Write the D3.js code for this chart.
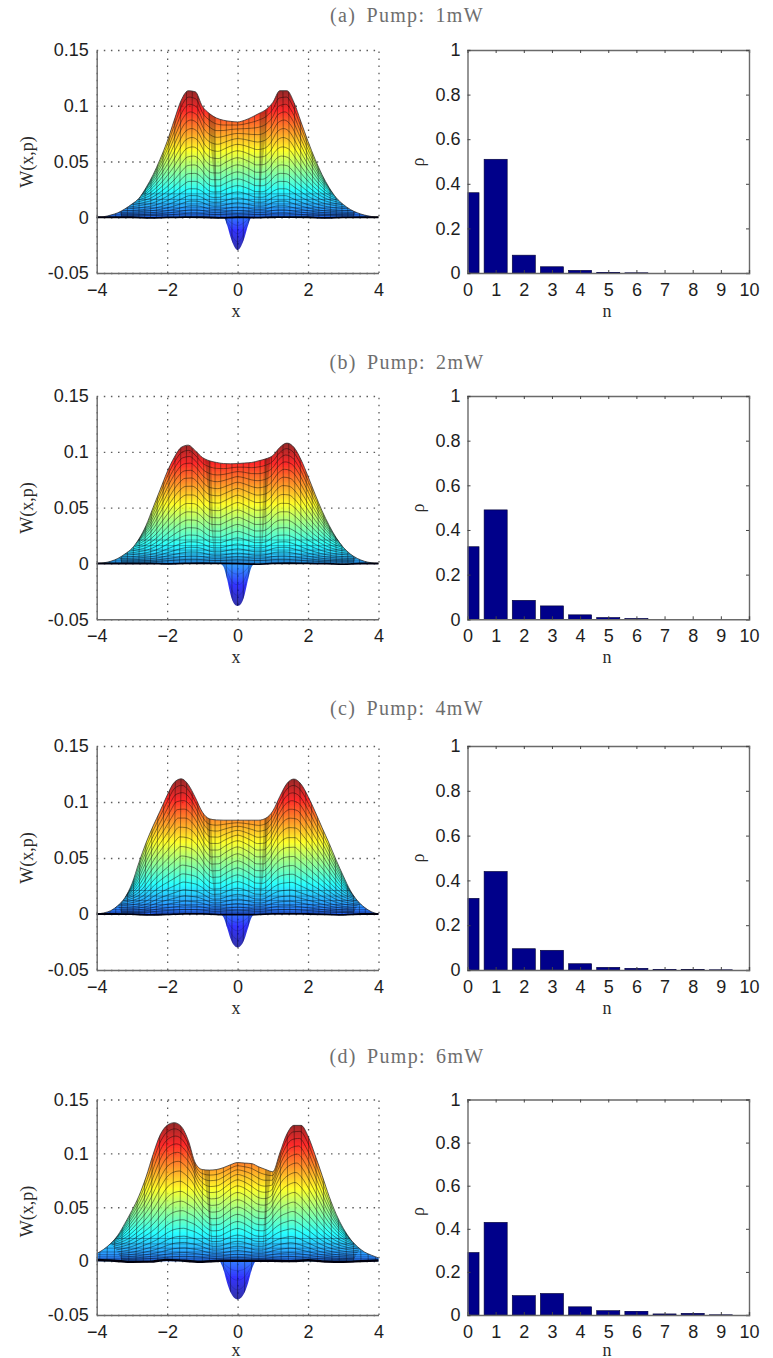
<!DOCTYPE html>
<html>
<head>
<meta charset="utf-8">
<script src="https://d3js.org/d3.v7.min.js"></script>
<style>
    html, body { margin: 0; padding: 0; background: #fff; }
    .title { font-family: "Liberation Serif", serif; font-size: 20px; fill: #6e6e6e; word-spacing: 4px; letter-spacing: 1.3px; }
    .lab { font-family: "Liberation Serif", serif; font-size: 18px; fill: #2a2a2a; }
    .axis text { font-family: "Liberation Sans", sans-serif; font-size: 18px; fill: #1e1e1e; }
    .axis .domain { stroke: #6a6a6a; stroke-width: 1.4; }
    .grid line { stroke: #5c5c5c; stroke-width: 1.3; stroke-dasharray: 1.5 5.6; }
    .grid .domain { display: none; }
    .grid text { display: none; }
    .tick-in line { stroke: #444; stroke-width: 1; }
    .tick-in .domain { stroke: #6a6a6a; stroke-width: 1.4; }
    .tick-in text { display: none; }
</style>
</head>
<body>
<svg id="chart" width="773" height="1358"></svg>
<script>

// the titles and where each row sits on the page
var titles = ['(a) Pump: 1mW', '(b) Pump: 2mW', '(c) Pump: 4mW', '(d) Pump: 6mW'];
var rowTop = [50, 396, 746, 1099.5];
var rowBottom = [273, 619.3, 970, 1315];
var titleY = [22, 369, 715, 1063];
var labelY = [317, 662.5, 1013.5, 1355.5];

// W(x,p) axis
var xTicks = [-4, -2, 0, 2, 4];
var yTicks = [-0.05, 0, 0.05, 0.1, 0.15];
var yTickLabels = ['-0.05', '0', '0.05', '0.1', '0.15'];

// sample positions of the surface outline
var xGrid = [-4, -3.8, -3.6, -3.4, -3.2, -3, -2.8, -2.6, -2.4, -2.2, -2, -1.8, -1.6, -1.4, -1.2, -1, -0.8, -0.6, -0.4, -0.2,
    0, 0.2, 0.4, 0.6, 0.8, 1, 1.2, 1.4, 1.6, 1.8, 2, 2.2, 2.4, 2.6, 2.8, 3, 3.2, 3.4, 3.6, 3.8, 4];

// outline of each surface seen from the side
var outlineA = [0, .0005, .002, .004, .0075, .0118, .017, .0265, .038, .052, .068, .087, .105, .1135, .1125, .0995, .093, .089, .087, .086,
    .0855, .087, .0897, .093, .0965, .103, .1135, .1135, .103, .0855, .068, .052, .038, .0265, .0175, .0115, .007, .004, .002, .0007, 0];
var outlineB = [0, .0006, .002, .0045, .0085, .0135, .022, .034, .05, .066, .082, .095, .104, .106, .101, .095, .092, .0905, .0895, .0893,
    .0895, .09, .0905, .092, .0937, .0967, .104, .1078, .104, .093, .078, .062, .047, .034, .023, .0145, .0085, .0045, .002, .0006, 0];
var outlineC = [0, .001, .003, .0075, .0145, .027, .046, .0635, .0785, .092, .106, .1175, .1207, .1155, .104, .091, .085, .084, .0838, .0838,
    .0838, .0838, .0838, .0838, .0855, .092, .105, .1165, .1205, .116, .105, .0915, .077, .063, .048, .034, .021, .012, .006, .002, 0];
var outlineD = [.007, .011, .0165, .024, .035, .047, .0605, .078, .099, .117, .126, .1285, .125, .112, .091, .085, .0845, .085, .0868, .0895,
    .0915, .091, .0905, .0875, .085, .083, .1005, .118, .126, .126, .116, .0985, .0795, .06, .0435, .0305, .0205, .0135, .0085, .0055, .003];

// shape of the lower mesh slices over the middle, from x=-1.6 to x=1.6
var innerA = [.1, .098, .085, .06, .05, .052, .065, .078, .085, .078, .065, .052, .05, .06, .085, .098, .1];
var innerB = [.1, .098, .088, .066, .056, .056, .066, .078, .086, .078, .066, .056, .056, .066, .088, .098, .1];
var innerC = [.112, .106, .09, .064, .05, .052, .066, .08, .088, .08, .066, .052, .05, .064, .09, .106, .112];
var innerD = [.118, .108, .09, .066, .054, .056, .07, .086, .094, .086, .07, .056, .054, .066, .09, .108, .118];

// negative lobe under zero
var lobeX = [-0.5, -0.4, -0.3, -0.2, -0.1, 0, 0.1, 0.2, 0.3, 0.4, 0.5];
var lobeA = [0, 0, -.007, -.018, -.026, -.0295, -.026, -.018, -.007, 0, 0];
var lobeB = [0, -.003, -.014, -.028, -.036, -.038, -.036, -.028, -.014, -.003, 0];
var lobeC = [0, -.003, -.012, -.022, -.028, -.03, -.028, -.022, -.012, -.003, 0];
var lobeD = [0, -.008, -.02, -.029, -.034, -.0355, -.034, -.029, -.02, -.008, 0];

// the black wobbling line at the foot of the surface
var footX = [-4, -3.5, -3, -2.5, -2, -1.5, -1, -0.5, 0, 0.5, 1, 1.5, 2, 2.5, 3, 3.5, 4];
var footA = [0, 0, 0, -.0005, -.0002, .0002, 0, -.0005, 0, -.0003, 0, .0002, 0, -.0006, -.0002, 0, 0];
var footB = [0, 0, 0, 0, -.0003, 0, .0002, 0, -.0002, -.0006, 0, .0002, 0, -.0002, -.0006, 0, 0];
var footC = [0, 0, -.0002, -.0007, -.0003, .0002, .0001, -.0005, -.0005, -.0005, .0001, .0002, 0, -.0003, -.0007, 0, 0];
var footD = [.001, .0004, -.0006, -.0005, .0012, .0003, -.0006, .0003, .0003, .0003, .0003, 0, .0008, -.0003, -.0006, 0, .0006];

// darker wedges over the middle: outer x at top, inner x at top, height of top, x at foot
var wedgeA = [-0.93, -0.68, 0.1, -0.58];
var wedgeB = [-1.0, -0.78, 0.098, -0.66];
var wedgeC = [-1.0, -0.8, 0.092, -0.62];
var wedgeD = [-1.03, -0.85, 0.088, -0.7];

// photon number distributions
var nValues = [0, 1, 2, 3, 4, 5, 6, 7, 8, 9, 10];
var rhoA = [.36, .51, .08, .028, .012, .004, .001, 0, 0, 0, 0];
var rhoB = [.325, .49, .085, .06, .02, .008, .004, .001, 0, 0, 0];
var rhoC = [.32, .44, .095, .088, .028, .012, .008, .004, .003, .001, 0];
var rhoD = [.29, .43, .09, .1, .038, .02, .018, .005, .008, .001, 0];
var rhoTicks = [0, 0.2, 0.4, 0.6, 0.8, 1];
var rhoTickLabels = ['0', '0.2', '0.4', '0.6', '0.8', '1'];

var outlines = [outlineA, outlineB, outlineC, outlineD];
var inners = [innerA, innerB, innerC, innerD];
var lobes = [lobeA, lobeB, lobeC, lobeD];
var foots = [footA, footB, footC, footD];
var wedges = [wedgeA, wedgeB, wedgeC, wedgeD];
var rhos = [rhoA, rhoB, rhoC, rhoD];

// mesh slices, as a fraction of the full height
var meshLevels = [.93, .855, .78, .705, .63, .555, .48, .41, .345, .285, .23, .18, .135, .1, .07, .045, .025];
var meshStep = [0.16, 0.16, 0.16, 0.2];
// flat slices near the foot, they run out to the outline
var fringeLevels = [.0012, .0025, .004, .006, .0085, .012, .016, .021];

var jetStops = [0, .125, .375, .625, .875, 1];
var jetColors = ['#00008f', '#0000ff', '#00ffff', '#ffff00', '#ff0000', '#800000'];

var svg = d3.select('#chart');
var defs = svg.append('defs');

defs.append('filter')
    .attr('id', 'soft')
    .attr('x', '-2%').attr('y', '-2%').attr('width', '104%').attr('height', '104%')
    .append('feGaussianBlur')
    .attr('stdDeviation', 0.55);

var x = d3.scaleLinear().domain([-4, 4]).range([96.7, 378.5]);
var n = d3.scaleLinear().domain([0, 10]).range([467.5, 749]);

titles.forEach(function (title, i) {

    var y = d3.scaleLinear().domain([-0.05, 0.15]).range([rowBottom[i], rowTop[i]]);
    var r = d3.scaleLinear().domain([0, 1]).range([rowBottom[i], rowTop[i]]);
    var h = rowBottom[i] - rowTop[i];

    svg.append('text')
        .attr('class', 'title')
        .attr('x', 407)
        .attr('y', titleY[i])
        .style('text-anchor', 'middle')
        .text(title);

    //dotted grid goes under the surface
    svg.append('g')
        .attr('class', 'grid')
        .attr('transform', 'translate(0,' + rowBottom[i] + ')')
        .call(d3.axisBottom(x).tickValues(xTicks).tickSize(-h));

    svg.append('g')
        .attr('class', 'grid')
        .attr('transform', 'translate(' + x(-4) + ',0)')
        .call(d3.axisLeft(y).tickValues(yTicks).tickSize(-(x(4) - x(-4))));

    // jet colours depend on height, min and max of each surface
    var outline = outlines[i];
    var lobe = lobes[i];
    var cMin = d3.min(lobe);
    var cMax = d3.max(outline);
    var gradId = 'jet' + i;

    var grad = defs.append('linearGradient')
        .attr('id', gradId)
        .attr('gradientUnits', 'userSpaceOnUse')
        .attr('x1', 0).attr('x2', 0)
        .attr('y1', y(0.15)).attr('y2', y(-0.05));

    jetStops.slice().reverse().forEach(function (s, k) {
        var w = cMin + s * (cMax - cMin);
        grad.append('stop')
            .attr('offset', (y(w) - y(0.15)) / h)
            .attr('stop-color', jetColors[jetStops.length - 1 - k]);
    });

    var surface = svg.append('g').attr('filter', 'url(#soft)');

    var area = d3.area()
        .x(function (d, k) { return x(xGrid[k]); })
        .y0(y(0))
        .y1(function (d) { return y(d); })
        .curve(d3.curveMonotoneX);

    var lobeArea = d3.area()
        .x(function (d, k) { return x(lobeX[k]); })
        .y0(y(0))
        .y1(function (d) { return y(d); })
        .curve(d3.curveMonotoneX);

    var clipId = 'clip' + i;
    var clip = defs.append('clipPath').attr('id', clipId);
    clip.append('path').attr('d', area(outline));
    clip.append('path').attr('d', lobeArea(lobe));

    surface.append('path')
        .attr('d', lobeArea(lobe))
        .attr('fill', 'url(#' + gradId + ')')
        .attr('fill-opacity', 0.8);

    surface.append('path')
        .attr('d', area(outline))
        .attr('fill', 'url(#' + gradId + ')')
        .attr('fill-opacity', 0.84);

    var mesh = surface.append('g').attr('clip-path', 'url(#' + clipId + ')');

    //darker wedges where the back of the surface shows through
    var wedge = wedges[i];
    var wedgeLine = d3.line()
        .x(function (d) { return x(d[0]); })
        .y(function (d) { return y(d[1]); });
    [1, -1].forEach(function (side) {
        mesh.append('path')
            .attr('d', wedgeLine([[side * wedge[0], wedge[2] + 0.02], [side * wedge[1], wedge[2] + 0.02], [side * wedge[3], 0.004]]) + 'Z')
            .attr('fill', '#201000')
            .attr('fill-opacity', 0.26);
    });

    //vertical mesh lines, cut by the outline
    mesh.selectAll('.vmesh')
        .data(d3.range(0, 4, meshStep[i]).concat(d3.range(meshStep[i], 4, meshStep[i]).map(function (d) { return -d; })))
        .enter()
        .append('line')
        .attr('class', 'vmesh')
        .attr('x1', function (d) { return x(d); })
        .attr('x2', function (d) { return x(d * (d * d > 1 ? 1.04 : 1)); })
        .attr('y1', y(0.14))
        .attr('y2', y(-0.045))
        .attr('stroke', '#101010')
        .attr('stroke-width', 0.85)
        .attr('stroke-opacity', 0.5);

    //horizontal mesh: slices draw in towards the middle as they get lower
    var inner = inners[i];

    meshLevels.forEach(function (t) {
        var shrink = 1 - 0.18 * (1 - t);
        var lift = 0.05 * t * (1 - t);
        var slice = outline.map(function (v, k) {
            var inIdx = k - 12;
            var base = (inIdx >= 0 && inIdx < inner.length) ? inner[inIdx] : v;
            return t * (t * v + (1 - t) * base) + lift;
        });
        var sliceLine = d3.line()
            .x(function (d, k) { return x(xGrid[k] * shrink); })
            .y(function (d) { return y(d); })
            .curve(d3.curveMonotoneX);
        mesh.append('path')
            .attr('d', sliceLine(slice))
            .attr('fill', 'none')
            .attr('stroke', '#101010')
            .attr('stroke-width', 0.85)
            .attr('stroke-opacity', 0.55);
    });

    mesh.selectAll('.fringe')
        .data(fringeLevels)
        .enter()
        .append('line')
        .attr('class', 'fringe')
        .attr('x1', x(-4))
        .attr('x2', x(4))
        .attr('y1', function (d) { return y(d); })
        .attr('y2', function (d) { return y(d); })
        .attr('stroke', '#050520')
        .attr('stroke-width', 0.8)
        .attr('stroke-opacity', 0.42);

    [0.75, 0.5, 0.25].forEach(function (t) {
        mesh.append('path')
            .attr('d', lobeArea.y1(function (d) { return y(d * t); })(lobe))
            .attr('fill', 'none')
            .attr('stroke', '#101060')
            .attr('stroke-width', 0.6)
            .attr('stroke-opacity', 0.35);
    });
    lobeArea.y1(function (d) { return y(d); });

    surface.append('path')
        .attr('d', d3.line()
            .x(function (d, k) { return x(xGrid[k]); })
            .y(function (d) { return y(d); })
            .curve(d3.curveMonotoneX)(outline))
        .attr('fill', 'none')
        .attr('stroke', '#2a2a2a')
        .attr('stroke-width', 1)
        .attr('stroke-opacity', 0.75);

    surface.append('path')
        .attr('d', d3.line()
            .x(function (d, k) { return x(footX[k]); })
            .y(function (d) { return y(d); })
            .curve(d3.curveMonotoneX)(foots[i]))
        .attr('fill', 'none')
        .attr('stroke', '#05050f')
        .attr('stroke-width', i === 3 ? 2.4 : 1.8);

    //axes of the surface plot
    svg.append('g')
        .attr('class', 'axis')
        .attr('transform', 'translate(0,' + rowBottom[i] + ')')
        .call(d3.axisBottom(x).tickValues(xTicks).tickSize(0).tickPadding(10));

    svg.append('g')
        .attr('class', 'axis')
        .attr('transform', 'translate(' + x(-4) + ',0)')
        .call(d3.axisLeft(y).tickValues(yTicks).tickSize(0).tickPadding(8)
            .tickFormat(function (d, k) { return yTickLabels[k]; }));

    svg.append('text')
        .attr('class', 'lab')
        .attr('x', 236)
        .attr('y', labelY[i])
        .style('text-anchor', 'middle')
        .text('x');

    svg.append('text')
        .attr('class', 'lab')
        .attr('transform', 'translate(33,' + (rowTop[i] + 112) + ')rotate(-90)')
        .style('text-anchor', 'middle')
        .text('W(x,p)');

    //bars, clipped at the left edge as in the original
    var barClip = 'barclip' + i;
    defs.append('clipPath').attr('id', barClip)
        .append('rect')
        .attr('x', n(0)).attr('y', rowTop[i])
        .attr('width', n(10) - n(0)).attr('height', h);

    var barGroup = svg.append('g')
        .attr('clip-path', 'url(#' + barClip + ')');

    barGroup.selectAll('.bar')
        .data(rhos[i])
        .enter()
        .append('rect')
        .attr('class', 'bar')
        .attr('x', function (d, k) { return n(nValues[k] - 0.41); })
        .attr('width', n(0.82) - n(0))
        .attr('y', function (d) { return r(d); })
        .attr('height', function (d) { return r(0) - r(d); })
        .attr('fill', '#00008a')
        .attr('stroke', '#000033')
        .attr('stroke-width', 0.6)
        .attr('filter', 'url(#soft)');

    //box with inward ticks on all four sides
    svg.append('g')
        .attr('class', 'tick-in')
        .attr('transform', 'translate(0,' + rowTop[i] + ')')
        .call(d3.axisTop(n).tickValues(nValues).tickSize(-3));

    svg.append('g')
        .attr('class', 'tick-in')
        .attr('transform', 'translate(' + n(10) + ',0)')
        .call(d3.axisRight(r).tickValues(rhoTicks).tickSize(-3));

    var nAxis = svg.append('g')
        .attr('class', 'axis tick-lab')
        .attr('transform', 'translate(0,' + rowBottom[i] + ')')
        .call(d3.axisBottom(n).tickValues(nValues).tickSize(-3).tickPadding(10));
    nAxis.selectAll('line').attr('stroke', '#444');
    nAxis.selectAll('text').attr('y', 10);

    var rAxis = svg.append('g')
        .attr('class', 'axis tick-lab')
        .attr('transform', 'translate(' + n(0) + ',0)')
        .call(d3.axisLeft(r).tickValues(rhoTicks).tickSize(-3).tickPadding(7)
            .tickFormat(function (d, k) { return rhoTickLabels[k]; }));
    rAxis.selectAll('line').attr('stroke', '#444');
    rAxis.selectAll('text').attr('x', -7);

    svg.append('text')
        .attr('class', 'lab')
        .attr('x', 607)
        .attr('y', labelY[i])
        .style('text-anchor', 'middle')
        .text('n');

    svg.append('text')
        .attr('class', 'lab')
        .attr('transform', 'translate(424,' + (rowTop[i] + 112) + ')rotate(-90)')
        .style('text-anchor', 'middle')
        .text('\u03c1');
});

</script>
</body>
</html>
